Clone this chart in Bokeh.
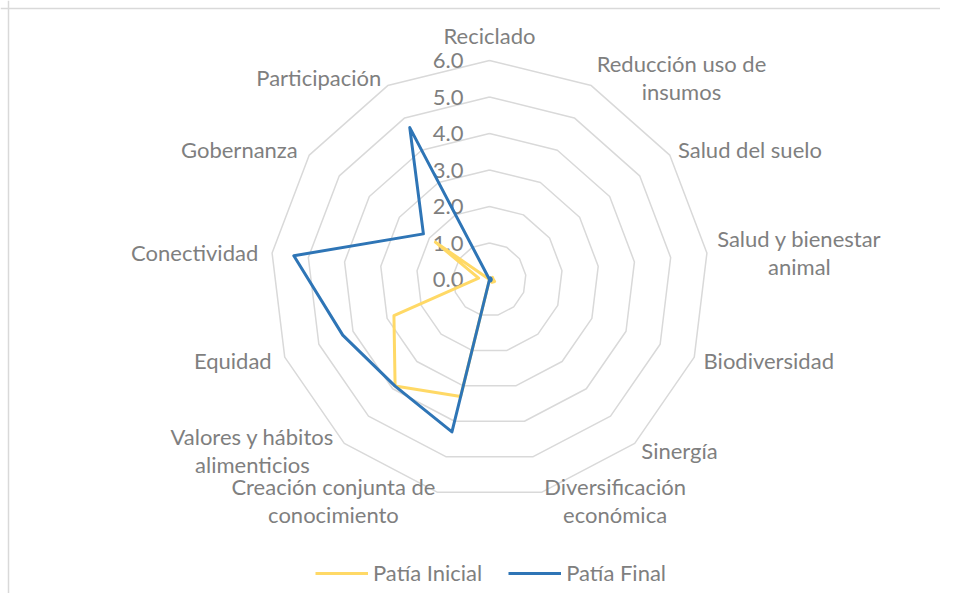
import numpy as np
from bokeh.plotting import figure
from bokeh.models import Range1d, Legend, LegendItem, Span
from bokeh.core.properties import value
from bokeh.embed import file_html
from bokeh.resources import INLINE

# ---------------- data ----------------
categories = [
    "Reciclado",
    "Reducción uso de\ninsumos",
    "Salud del suelo",
    "Salud y bienestar\nanimal",
    "Biodiversidad",
    "Sinergía",
    "Diversificación\neconómica",
    "Creación conjunta de\nconocimiento",
    "Valores y hábitos\nalimenticios",
    "Equidad",
    "Conectividad",
    "Gobernanza",
    "Participación",
]
tick_values = [0, 1, 2, 3, 4, 5, 6]
tick_labels = ["0.0", "1.0", "2.0", "3.0", "4.0", "5.0", "6.0"]
patia_inicial = [0.0, 0.0, 0.1, 0.1, 0.15, 0.1, 0.0, 3.3, 3.9, 2.8, 0.3, 1.8, 0.0]
patia_final = [0.0, 0.05, 0.05, 0.05, 0.05, 0.05, 0.0, 4.3, 3.9, 4.3, 5.4, 2.2, 4.7]
series_names = ["Patía Inicial", "Patía Final"]

# ---------------- layout ----------------
FONT = "Lato"
FS = "22px"
TXT = "#7f7f7f"
GRID = "#d9d9d9"
S = 36.5            # px per unit
W, H = 940, 593
CX, CY = 489, 279   # radar centre in frame px (from left, from top)

p = figure(width=W, height=H, output_backend="svg", toolbar_location=None,
           x_range=Range1d(-CX / S, (W - CX) / S),
           y_range=Range1d(-(H - CY) / S, CY / S),
           x_axis_location=None, y_axis_location=None,
           min_border=0, outline_line_color=None)
p.grid.visible = False
p.background_fill_color = "white"

n = len(categories)
theta = np.arange(n) * 2 * np.pi / n
sn, cs = np.sin(theta), np.cos(theta)

# rings
for t in tick_values[1:]:
    p.line(np.append(t * sn, t * sn[0]), np.append(t * cs, t * cs[0]),
           line_color=GRID, line_width=1.5)

# ring labels
p.text(x=[-26 / S] * len(tick_values), y=tick_values, text=tick_labels,
       text_align="right", text_baseline="middle", text_color=TXT,
       text_font=value(FONT), text_font_size=FS)

# category labels
R = max(tick_values)
DXR, DXL, DY, LH = 10 / S, 14 / S, 9 / S, 28 / S


def est_width(s):
    u = 0.0
    for ch in s:
        if ch in "ilIjtfr .,'í":
            u += 0.5
        elif ch in "mwMW":
            u += 1.5
        else:
            u += 1.0
    return u * 11.8 / S


lx, ly, lt, la = [], [], [], []
for k, lab in enumerate(categories):
    ay = (R + DY) * cs[k]
    if abs(sn[k]) < 0.1:
        ax = 0.0
        ay += np.sign(cs[k]) * 16 / S
        align = "center"
    elif sn[k] > 0:
        ax = (R + DXR) * sn[k]
        align = "left"
    else:
        ax = (R + DXL) * sn[k]
        align = "right"
    lines = lab.split("\n")
    nl = len(lines)
    if nl == 1:
        lx.append(ax); ly.append(ay); lt.append(lab); la.append(align)
    else:
        w = max(est_width(s) for s in lines)
        if align == "left":
            cxl = ax + w / 2
        elif align == "right":
            cxl = ax - w / 2
        else:
            cxl = ax
        for i, s in enumerate(lines):
            lx.append(cxl)
            ly.append(ay + ((nl - 1) / 2 - i) * LH)
            lt.append(s)
            la.append("center")

for al in ["left", "right", "center"]:
    idx = [i for i in range(len(lt)) if la[i] == al]
    p.text(x=[lx[i] for i in idx], y=[ly[i] for i in idx],
           text=[lt[i] for i in idx], text_align=al, text_baseline="middle",
           text_color=TXT, text_font=value(FONT), text_font_size=FS)

# series
colors = ["#FFD966", "#2E75B6"]
renderers = []
for vals, col in zip([patia_inicial, patia_final], colors):
    v = np.array(vals)
    xs = np.append(v * sn, v[0] * sn[0])
    ys = np.append(v * cs, v[0] * cs[0])
    r = p.line(xs, ys, line_color=col, line_width=3, line_join="round")
    renderers.append(r)

legend = Legend(items=[LegendItem(label=nm, renderers=[r]) for nm, r in zip(series_names, renderers)],
                orientation="horizontal", location=(315, 7),
                glyph_width=53, glyph_height=20, label_standoff=5, spacing=26,
                padding=0, margin=0, border_line_alpha=0, background_fill_alpha=0,
                label_text_font=FONT, label_text_font_size=FS, label_text_color=TXT)
p.add_layout(legend)

# chart border (left and top visible in the reference)
p.add_layout(Span(location=(8 - CX) / S, dimension="height", line_color=GRID, line_width=1.5))
p.add_layout(Span(location=(CY - 8) / S, dimension="width", line_color=GRID, line_width=1.5))

open("out.html", "w").write(file_html(p, INLINE))
